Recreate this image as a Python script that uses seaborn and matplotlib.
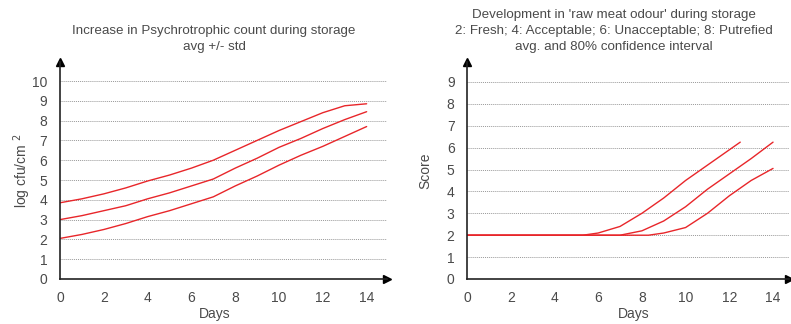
import matplotlib
matplotlib.use("Agg")
import matplotlib.pyplot as plt
import seaborn as sns
import pandas as pd

# ---- Left panel data: psychrotrophic count (log cfu/cm2) ----
days_left = [0, 1, 2, 3, 4, 5, 6, 7, 8, 9, 10, 11, 12, 13, 14]
upper_left = [3.85, 4.05, 4.3, 4.6, 4.95, 5.25, 5.6, 6.0, 6.5, 7.0, 7.5, 7.95, 8.4, 8.75, 8.85]
avg_left = [3.0, 3.2, 3.45, 3.7, 4.05, 4.35, 4.7, 5.05, 5.6, 6.1, 6.65, 7.1, 7.6, 8.05, 8.45]
lower_left = [2.05, 2.25, 2.5, 2.8, 3.15, 3.45, 3.8, 4.15, 4.7, 5.2, 5.75, 6.25, 6.7, 7.2, 7.7]

# ---- Right panel data: raw meat odour score ----
days_upper_r = [0, 5.3, 6, 7, 8, 9, 10, 11, 12, 12.5]
upper_right = [2.0, 2.0, 2.1, 2.4, 3.0, 3.7, 4.5, 5.2, 5.9, 6.25]
days_avg_r = [0, 7, 8, 9, 10, 11, 12, 13, 14]
avg_right = [2.0, 2.0, 2.2, 2.65, 3.3, 4.1, 4.8, 5.5, 6.25]
days_lower_r = [0, 8.3, 9, 10, 11, 12, 13, 14]
lower_right = [2.0, 2.0, 2.1, 2.35, 3.0, 3.8, 4.5, 5.05]

left_title = "Increase in Psychrotrophic count during storage\navg +/- std"
right_title = ("Development in 'raw meat odour' during storage\n"
               "2: Fresh; 4: Acceptable; 6: Unacceptable; 8: Putrefied\n"
               "avg. and 80% confidence interval")

sns.set_theme(style="white")
plt.rcParams['font.family'] = ['Liberation Sans', 'DejaVu Sans']

RED = "#e8262a"
TXT = "#4a4a4a"
AX = "#222222"
W, H = 791, 324

fig = plt.figure(figsize=(7.91, 3.24), dpi=100)
ax1 = fig.add_axes([60/W, 1-279/H, (387-60)/W, (279-62)/H])
ax2 = fig.add_axes([467/W, 1-279/H, (789-467)/W, (279-62)/H])

def long_df(parts):
    rows = []
    for name, xs, ys in parts:
        for x, y in zip(xs, ys):
            rows.append({"series": name, "day": x, "value": y})
    return pd.DataFrame(rows)

df_left = long_df([("upper", days_left, upper_left),
                   ("avg", days_left, avg_left),
                   ("lower", days_left, lower_left)])
df_right = long_df([("upper", days_upper_r, upper_right),
                    ("avg", days_avg_r, avg_right),
                    ("lower", days_lower_r, lower_right)])

pal = {"upper": RED, "avg": RED, "lower": RED}
sns.lineplot(data=df_left, x="day", y="value", hue="series", palette=pal,
             ax=ax1, legend=False, linewidth=1.0, sort=True)
sns.lineplot(data=df_right, x="day", y="value", hue="series", palette=pal,
             ax=ax2, legend=False, linewidth=1.0, sort=True)

def style(ax, xmax, ymax, yticks, ylabel, grid_y, xlab_x, ylab_x):
    ax.set_xlim(0, xmax)
    ax.set_ylim(0, ymax)
    ax.set_xticks(range(0, 15, 2))
    ax.set_yticks(yticks)
    for s in ["top", "right"]:
        ax.spines[s].set_visible(False)
    for s in ["left", "bottom"]:
        ax.spines[s].set_color(AX)
        ax.spines[s].set_linewidth(1.2)
    for g in grid_y:
        ax.axhline(g, color="#999999", linestyle=(0, (1, 1)), linewidth=0.7, zorder=0)
    ax.tick_params(axis="both", direction="inout", length=6, width=1.2,
                   colors=AX, labelcolor=TXT, labelsize=10)
    ax.tick_params(axis="x", pad=6)
    ax.tick_params(axis="y", pad=6)
    ax.set_xlabel("Days", fontsize=10, color=TXT)
    ax.set_ylabel(ylabel, fontsize=10, color=TXT)
    ax.xaxis.set_label_coords(xlab_x, -0.128)
    ax.yaxis.set_label_coords(ylab_x, 0.5)
    ax.plot(1, 0, ">", color="black", markersize=6, transform=ax.transAxes, clip_on=False)
    ax.plot(0, 1, "^", color="black", markersize=6, transform=ax.transAxes, clip_on=False)
    ax.set_facecolor("white")

style(ax1, 14.93, 10.96, range(0, 11), "log cfu/cm $^{2}$", range(1, 11),
      (215-60)/327, (33-60)/327)
style(ax2, 14.73, 9.91, range(0, 10), "Score", range(1, 10),
      (634-467)/322, (432-467)/322)

fig.text(214/W, 1-25/H, left_title, ha="center", va="top", fontsize=9.6,
         color=TXT, linespacing=1.45)
fig.text(614/W, 1-9/H, right_title, ha="center", va="top", fontsize=9.6,
         color=TXT, linespacing=1.45)

fig.savefig("out.png", dpi=100, facecolor="white")
